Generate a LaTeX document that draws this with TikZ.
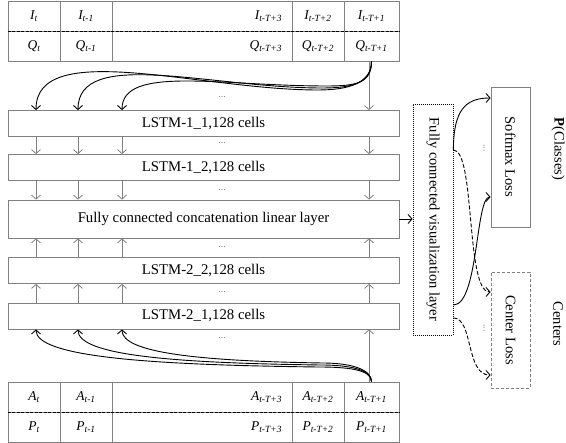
\documentclass[tikz,border=0pt]{standalone}
\usepackage{fontspec}
\setmainfont{Liberation Serif}
\usetikzlibrary{arrows.meta}
\tikzset{layer/.style={draw=gray, line width=.8pt, minimum width=391pt, minimum height=26pt, inner sep=0pt, font=\fontsize{14.8}{17}\selectfont},
  cell/.style={draw=gray, line width=.8pt, minimum height=30pt, inner sep=0pt, font=\fontsize{13.5}{15}\selectfont\itshape},
  rowsep/.style={black, line width=1.1pt, dash pattern=on 3pt off 1.5pt},
  feed/.style={gray, line width=.8pt, -{Straight Barb[length=4pt,width=9pt]}},
  curve/.style={black, line width=.9pt, -{Straight Barb[length=4pt,width=9pt]}},
  dots/.style={gray, inner sep=0pt, font=\fontsize{10}{12}\selectfont},
  loss/.style={draw=gray, line width=.8pt, minimum width=39pt, inner sep=0pt, font=\fontsize{14.5}{16}\selectfont}}

\begin{document}
\begin{tikzpicture}[x=1pt, y=1pt]
   \useasboundingbox (0,0) rectangle (566,443);
   % input table, top
   \node[cell, minimum width=52pt] (i1) at (34,427) {I\textsubscript{t}};
   \node[cell, minimum width=52pt] (i2) at (86,427) {I\textsubscript{t-1}};
   \node[cell, minimum width=180pt, text width=160pt, align=right] (i3) at (202,427) {I\textsubscript{t-T+3}};
   \node[cell, minimum width=52pt] (i4) at (318,427) {I\textsubscript{t-T+2}};
   \node[cell, minimum width=55pt] (i5) at (371.5,427) {I\textsubscript{t-T+1}};
   \node[cell, minimum width=52pt] (q1) at (34,397) {Q\textsubscript{t}};
   \node[cell, minimum width=52pt] (q2) at (86,397) {Q\textsubscript{t-1}};
   \node[cell, minimum width=180pt, text width=160pt, align=right] (q3) at (202,397) {Q\textsubscript{t-T+3}};
   \node[cell, minimum width=52pt] (q4) at (318,397) {Q\textsubscript{t-T+2}};
   \node[cell, minimum width=55pt] (q5) at (371.5,397) {Q\textsubscript{t-T+1}};
   \draw[rowsep] (i1.south west) -- (i5.south east);
   % input table, bottom
   \node[cell, minimum width=52pt] (a1) at (34,46) {A\textsubscript{t}};
   \node[cell, minimum width=52pt] (a2) at (86,46) {A\textsubscript{t-1}};
   \node[cell, minimum width=180pt, text width=160pt, align=right] (a3) at (202,46) {A\textsubscript{t-T+3}};
   \node[cell, minimum width=52pt] (a4) at (318,46) {A\textsubscript{t-T+2}};
   \node[cell, minimum width=55pt] (a5) at (371.5,46) {A\textsubscript{t-T+1}};
   \node[cell, minimum width=52pt] (p1) at (34,16) {P\textsubscript{t}};
   \node[cell, minimum width=52pt] (p2) at (86,16) {P\textsubscript{t-1}};
   \node[cell, minimum width=180pt, text width=160pt, align=right] (p3) at (202,16) {P\textsubscript{t-T+3}};
   \node[cell, minimum width=52pt] (p4) at (318,16) {P\textsubscript{t-T+2}};
   \node[cell, minimum width=55pt] (p5) at (371.5,16) {P\textsubscript{t-T+1}};
   \draw[rowsep] (a1.south west) -- (a5.south east);
   % layers
   \node[layer] (l11) at (203.5,319.5) {LSTM-1\_1,128 cells};
   \node[layer] (l12) at (203.5,275.5) {LSTM-1\_2,128 cells};
   \node[layer, minimum height=38pt] (fc) at (203.5,224) {Fully connected concatenation linear layer};
   \node[layer] (l22) at (203.5,172.5) {LSTM-2\_2,128 cells};
   \node[layer] (l21) at (203.5,127) {LSTM-2\_1,128 cells};
   \coordinate (c1) at (36,0);
   \coordinate (c2) at (78,0);
   \coordinate (c3) at (122,0);
   \coordinate (c4) at (369,0);
   \node[dots] (d0) at (222,346) {...};
   \node[dots] (d1) at (222,300) {...};
   \node[dots] (d2) at (222,253) {...};
   \node[dots] (d3) at (222,196) {...};
   \node[dots] (d4) at (222,151) {...};
   \node[dots] (d5) at (222,105) {...};
   % straight links
   \draw[feed] (q5.south -| c4) -- (l11.north -| c4);
   \draw[feed] (l11.south -| c1) -- (l12.north -| c1);
   \draw[feed] (l11.south -| c2) -- (l12.north -| c2);
   \draw[feed] (l11.south -| c3) -- (l12.north -| c3);
   \draw[feed] (l11.south -| c4) -- (l12.north -| c4);
   \draw[feed] (l12.south -| c1) -- (fc.north -| c1);
   \draw[feed] (l12.south -| c2) -- (fc.north -| c2);
   \draw[feed] (l12.south -| c3) -- (fc.north -| c3);
   \draw[feed] (l12.south -| c4) -- (fc.north -| c4);
   \draw[feed] (l22.north -| c1) -- (fc.south -| c1);
   \draw[feed] (l22.north -| c2) -- (fc.south -| c2);
   \draw[feed] (l22.north -| c3) -- (fc.south -| c3);
   \draw[feed] (l22.north -| c4) -- (fc.south -| c4);
   \draw[feed] (l21.north -| c1) -- (l22.south -| c1);
   \draw[feed] (l21.north -| c2) -- (l22.south -| c2);
   \draw[feed] (l21.north -| c3) -- (l22.south -| c3);
   \draw[feed] (l21.north -| c4) -- (l22.south -| c4);
   \draw[feed] (a5.north -| c4) -- (l21.south -| c4);
   % curved links
   \draw[curve] (q5.south) .. controls +(0,-22) and +(30,0) .. (318,353) .. controls (200,353) and (36,405) .. (l11.north -| c1);
   \draw[curve] (q5.south) .. controls +(0,-22) and +(30,0) .. (322,355) .. controls (210,355) and (78,396) .. (l11.north -| c2);
   \draw[curve] (q5.south) .. controls +(0,-22) and +(30,0) .. (326,357) .. controls (220,357) and (122,378) .. (l11.north -| c3);
   \draw[curve] (a5.north) .. controls +(0,12) and +(30,0) .. (318,76) .. controls (150,78) and (36,86) .. (l21.south -| c1);
   \draw[curve] (a5.north) .. controls +(0,12) and +(30,0) .. (320,78) .. controls (170,80) and (78,88) .. (l21.south -| c2);
   \draw[curve] (a5.north) .. controls +(0,12) and +(30,0) .. (322,80) .. controls (200,82) and (122,90) .. (l21.south -| c3);
   % outputs
   \node[draw, line width=.8pt, dash pattern=on 1pt off 1pt, minimum width=40pt, minimum height=231pt, inner sep=0pt, font=\fontsize{14.5}{16}\selectfont] (vis) at (433,223.5) {\rotatebox{-90}{Fully connected visualization layer}};
   \node[loss, minimum height=140pt] (soft) at (510.5,286) {\rotatebox{-90}{Softmax Loss}};
   \node[loss, minimum height=116pt, dash pattern=on 3pt off 2pt] (cent) at (510.5,113) {\rotatebox{-90}{Center Loss}};
   \node[dots] (vd1) at (484,295) {\rotatebox{-90}{...}};
   \node[dots] (vd2) at (484,115) {\rotatebox{-90}{...}};
   \node[font=\fontsize{14.5}{16}\selectfont] (pcls) at (558,294) {\rotatebox{-90}{\textbf{P}(Classes)}};
   \node[font=\fontsize{14.5}{16}\selectfont] (ctrs) at (558,119) {\rotatebox{-90}{Centers}};
   \draw[curve] (fc.east) -- (fc.east -| vis.west);
   \draw[curve] ([yshift=69.5pt]vis.east) .. controls +(0,40) and +(-25,0) .. ([yshift=59pt]soft.west);
   \draw[curve, dash pattern=on 4pt off 2pt] ([yshift=69.5pt]vis.east) .. controls +(22,0) and +(-25,0) .. ([yshift=38pt]cent.west);
   \draw[curve] ([yshift=-85.5pt]vis.east) .. controls +(25,0) and +(-15,0) .. ([yshift=-40pt]soft.west);
   \draw[curve, dash pattern=on 4pt off 2pt] ([yshift=-98.5pt]vis.east) .. controls +(20,0) and +(-25,0) .. ([yshift=-45pt]cent.west);
\end{tikzpicture}
\end{document}
